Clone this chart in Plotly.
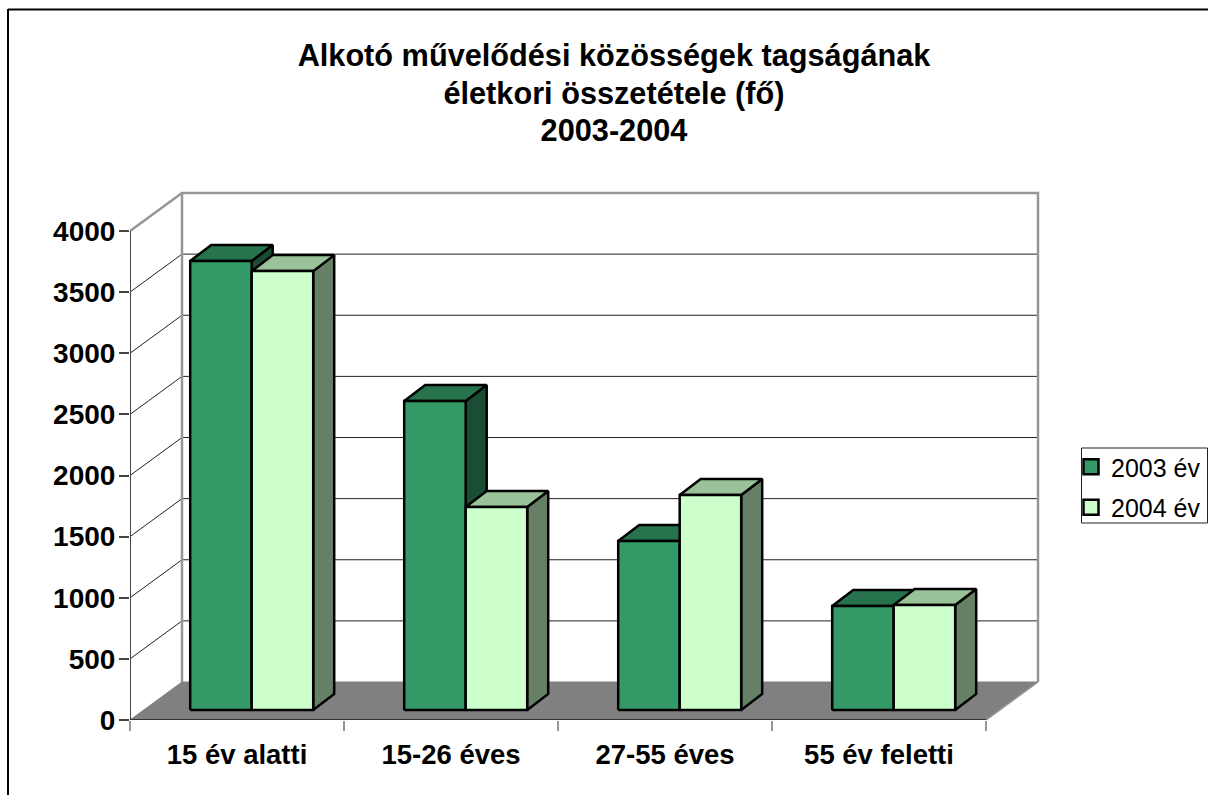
import plotly.graph_objects as go

categories = ["15 év alatti", "15-26 éves", "27-55 éves", "55 év feletti"]
series_names = ["2003 év", "2004 év"]
values_2003 = [3673, 2528, 1382, 850]
values_2004 = [3590, 1660, 1759, 859]
y_ticks = [0, 500, 1000, 1500, 2000, 2500, 3000, 3500, 4000]
title_lines = ["Alkotó művelődési közösségek tagságának", "életkori összetétele (fő)", "2003-2004"]

FONT = "Liberation Sans, Arial, sans-serif"
W, H = 1208, 795
L, R, T, B = 130, 1044, 187, 720
PX_X = 214.0          # px per category
PX_Y = 489 / 4000     # px per unit
WALL_DX, WALL_DY = 52 / PX_X, 38 / PX_Y
BASE_DX, BASE_DY = 14.7 / PX_X, 10 / PX_Y
BAR_W = 61.5 / PX_X
BAR_DX, BAR_DY = 21 / PX_X, 16 / PX_Y
N = len(categories)
YMAX = y_ticks[-1]

GRAY = "#969696"
DARK = "#444444"
faces = [
    dict(front="#339966", top="#26734D", side="#1A4D33"),
    dict(front="#CCFFCC", top="#99C299", side="#668066"),
]


def paper_x(px):
    return (px - L) / (R - L)


def paper_y(py):
    return (B - py) / (B - T)


def polys(list_of_polys):
    xs, ys = [], []
    for p in list_of_polys:
        for x, y in list(p) + [p[0]]:
            xs.append(x)
            ys.append(y)
        xs.append(None)
        ys.append(None)
    return xs, ys


fig = go.Figure()


def line(xs, ys, color, width):
    fig.add_trace(go.Scatter(x=xs, y=ys, mode="lines", line=dict(color=color, width=width),
                             showlegend=False, hoverinfo="skip", cliponaxis=False))


# gridlines on side and back walls
gx, gy = [], []
for t in y_ticks[1:-1]:
    gx += [0, WALL_DX, N + WALL_DX, None]
    gy += [t, t + WALL_DY, t + WALL_DY, None]
line(gx, gy, "#222222", 1)

# walls
line([0, WALL_DX, N + WALL_DX, N + WALL_DX], [YMAX, YMAX + WALL_DY, YMAX + WALL_DY, WALL_DY], GRAY, 2.5)
line([WALL_DX, WALL_DX], [WALL_DY, YMAX + WALL_DY], GRAY, 2.5)

# floor
fx, fy = polys([[(0, 0), (N, 0), (N + WALL_DX, WALL_DY), (WALL_DX, WALL_DY)]])
fig.add_trace(go.Scatter(x=fx, y=fy, mode="lines", fill="toself", fillcolor="#808080",
                         line=dict(color="#808080", width=1), showlegend=False, hoverinfo="skip"))
line([N, N + WALL_DX], [0, WALL_DY], GRAY, 1.5)

# axis lines
line([0, 0], [0, YMAX], DARK, 2)
line([0, N], [0, 0], "#333333", 2)

# bars
for s, vals in enumerate([values_2003, values_2004]):
    side, top, front = [], [], []
    for i, v in enumerate(vals):
        c = i + 0.5 + BASE_DX
        x0 = c - BAR_W if s == 0 else c
        x1 = x0 + BAR_W
        y0, y1 = BASE_DY, BASE_DY + v
        front.append([(x0, y0), (x1, y0), (x1, y1), (x0, y1)])
        top.append([(x0, y1), (x1, y1), (x1 + BAR_DX, y1 + BAR_DY), (x0 + BAR_DX, y1 + BAR_DY)])
        side.append([(x1, y0), (x1 + BAR_DX, y0 + BAR_DY), (x1 + BAR_DX, y1 + BAR_DY), (x1, y1)])
    for name, pl in (("side", side), ("top", top), ("front", front)):
        px, py = polys(pl)
        fig.add_trace(go.Scatter(x=px, y=py, mode="lines", fill="toself", fillcolor=faces[s][name],
                                 line=dict(color="black", width=2.5), showlegend=False, hoverinfo="skip"))

# legend entries
for s, nm in enumerate(series_names):
    fig.add_trace(go.Scatter(x=[None], y=[None], mode="markers", name=nm, legendgroup=nm,
                             marker=dict(symbol="square", size=15, color=faces[s]["front"],
                                         line=dict(color="black", width=2.5))))

fig.update_layout(
    width=W, height=H, autosize=False,
    paper_bgcolor="white", plot_bgcolor="white",
    margin=dict(l=L, r=W - R, t=T, b=H - B, autoexpand=False),
    font=dict(family=FONT, color="black"),
    title=dict(text="<br>".join(f'<b><span style="font-size:30.7px">{t}</span></b>' for t in title_lines),
               x=614 / W, xanchor="center", y=1 - 66 / H, yanchor="middle",
               font=dict(size=28.85, family=FONT, color="black")),
    xaxis=dict(range=[0, (R - L) / PX_X], showgrid=False, zeroline=False, showline=False,
               tickmode="array", tickvals=[i + 0.5 for i in range(N)], ticktext=[f"<b>{c}</b>" for c in categories],
               ticks="", tickfont=dict(size=27.5, family=FONT, color="black"), ticklabelstandoff=15,
               minor=dict(tickmode="array", tickvals=list(range(N + 1)), ticks="outside", ticklen=10,
                          tickcolor=GRAY, tickwidth=2, showgrid=False)),
    yaxis=dict(range=[0, (B - T) / PX_Y], showgrid=False, zeroline=False, showline=False,
               tickmode="array", tickvals=y_ticks, ticktext=[f"<b>{t}</b>" for t in y_ticks],
               ticks="outside", ticklen=10, tickwidth=1.5, tickcolor=DARK,
               tickfont=dict(size=28, family=FONT, color="black"), ticklabelstandoff=-2),
    legend=dict(x=paper_x(1071), y=paper_y(444), xanchor="left", yanchor="top", bgcolor="rgba(0,0,0,0)",
                borderwidth=0, font=dict(size=25, family=FONT, color="black"), itemsizing="trace",
                tracegroupgap=5),
    shapes=[
        dict(type="rect", xref="paper", yref="paper", x0=paper_x(1081.5), x1=paper_x(1207.5),
             y0=paper_y(448), y1=paper_y(523), line=dict(color="#222222", width=1), layer="below"),
        dict(type="line", xref="paper", yref="paper", x0=paper_x(8), x1=paper_x(1215), y0=paper_y(9.5), y1=paper_y(9.5),
             line=dict(color="black", width=2)),
        dict(type="line", xref="paper", yref="paper", x0=paper_x(8), x1=paper_x(8), y0=paper_y(9), y1=paper_y(800),
             line=dict(color="black", width=2)),
    ],
)

fig.write_html("out.html", config=dict(displayModeBar=False),
               post_script="document.body.style.margin='0';document.body.style.overflow='hidden';")
